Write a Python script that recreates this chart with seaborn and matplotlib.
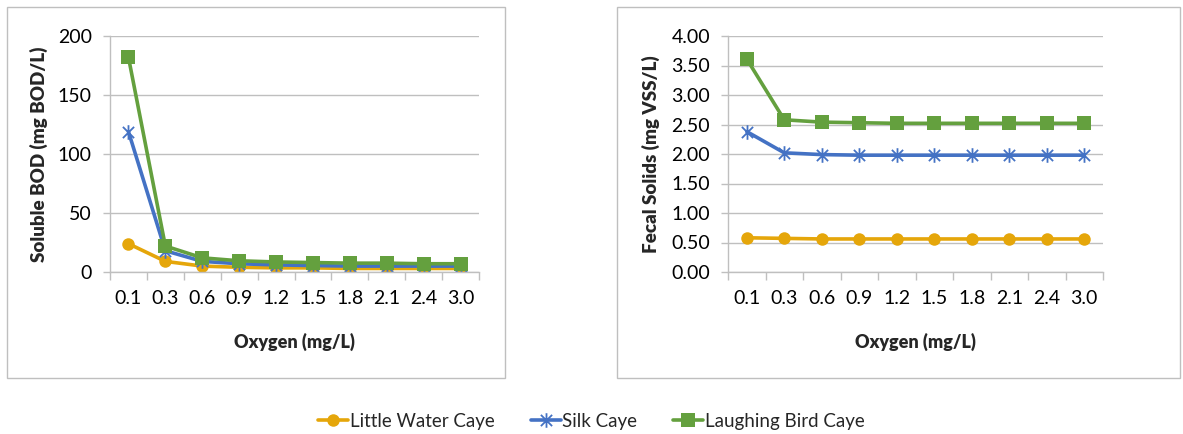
import matplotlib
matplotlib.use("Agg")
import matplotlib.pyplot as plt
import seaborn as sns
import pandas as pd
from matplotlib.path import Path
from matplotlib.patches import Rectangle
from matplotlib.lines import Line2D
from matplotlib.ticker import FixedLocator, NullFormatter

oxygen = ["0.1", "0.3", "0.6", "0.9", "1.2", "1.5", "1.8", "2.1", "2.4", "3.0"]
series_names = ["Little Water Caye", "Silk Caye", "Laughing Bird Caye"]

bod_little = [24, 9, 5, 4, 3.5, 3.5, 3, 3, 3, 3]
bod_silk = [119, 18, 9, 7, 6, 5.5, 5, 5, 5, 5]
bod_laughing = [182, 22, 12, 9.5, 8.5, 8, 7.5, 7.5, 7, 7]

fs_little = [0.58, 0.57, 0.56, 0.56, 0.56, 0.56, 0.56, 0.56, 0.56, 0.56]
fs_silk = [2.38, 2.02, 1.99, 1.98, 1.98, 1.98, 1.98, 1.98, 1.98, 1.98]
fs_laughing = [3.61, 2.58, 2.54, 2.53, 2.52, 2.52, 2.52, 2.52, 2.52, 2.52]

colors = ["#E5A60A", "#4472C4", "#64A03E"]

sns.set_theme(style="white")
plt.rcParams["font.family"] = ["Lato", "DejaVu Sans"]

# asterisk marker: x plus vertical bar
star = Path(
    [(-1, -1), (1, 1), (-1, 1), (1, -1), (0, -1.3), (0, 1.3)],
    [Path.MOVETO, Path.LINETO, Path.MOVETO, Path.LINETO, Path.MOVETO, Path.LINETO],
)
markers = ["o", star, "s"]
msizes = [9, 10.5, 9.5]

fig = plt.figure(figsize=(11.83, 4.34), dpi=100)
W, H = 1183, 434

# panel frames
for (x0, x1) in [(7, 505), (617, 1180)]:
    fig.patches.append(Rectangle((x0 / W, 1 - 378 / H), (x1 - x0) / W, (378 - 7) / H,
                                 transform=fig.transFigure, fill=False,
                                 edgecolor="#BFBFBF", linewidth=1.0))

ax1 = fig.add_axes([110 / W, 1 - 272 / H, (479 - 110) / W, (272 - 36) / H])
ax2 = fig.add_axes([728 / W, 1 - 272 / H, (1103 - 728) / W, (272 - 36) / H])

panels = [
    (ax1, [bod_little, bod_silk, bod_laughing], (0, 200), [0, 50, 100, 150, 200],
     "{:.0f}", "Soluble BOD (mg BOD/L)", -0.168),
    (ax2, [fs_little, fs_silk, fs_laughing], (0, 4), [0, 0.5, 1, 1.5, 2, 2.5, 3, 3.5, 4],
     "{:.2f}", "Fecal Solids (mg VSS/L)", -0.181),
]

for ax, data, ylim, yticks, fmt, ylabel, ylx in panels:
    for vals, name, c, m, ms in zip(data, series_names, colors, markers, msizes):
        df = pd.DataFrame({"x": oxygen, "y": vals})
        mew = 1.3 if m is star else 0
        sns.lineplot(data=df, x="x", y="y", ax=ax, color=c, linewidth=2.6,
                     marker=m, markersize=ms, markeredgecolor=c,
                     markerfacecolor=c, markeredgewidth=mew, label=name,
                     legend=False, sort=False)
    ax.set_xlim(-0.5, len(oxygen) - 0.5)
    ax.set_ylim(*ylim)
    ax.set_yticks(yticks)
    ax.set_yticklabels([fmt.format(v) for v in yticks])
    ax.yaxis.grid(True, color="#BFBFBF", linewidth=1.0)
    ax.set_axisbelow(True)
    for s in ["top", "right"]:
        ax.spines[s].set_visible(False)
    for s in ["left", "bottom"]:
        ax.spines[s].set_color("#BFBFBF")
        ax.spines[s].set_linewidth(1.0)
    ax.xaxis.set_minor_locator(FixedLocator([i - 0.5 for i in range(len(oxygen) + 1)]))
    ax.xaxis.set_minor_formatter(NullFormatter())
    ax.tick_params(axis="x", which="major", length=0, pad=13, labelsize=14, colors="#000000")
    ax.tick_params(axis="x", which="minor", length=6, width=1.0, color="#BFBFBF", bottom=True)
    ax.tick_params(axis="y", which="major", length=5, width=1.0, color="#BFBFBF",
                   left=True, pad=8, labelsize=14, labelcolor="#000000")
    ax.set_xlabel("Oxygen (mg/L)", fontsize=13, fontweight="heavy")
    ax.set_ylabel(ylabel, fontsize=13.5, fontweight="heavy")
    ax.xaxis.set_label_coords(0.5, -0.258)
    ax.yaxis.set_label_coords(ylx, 0.5)

handles = [Line2D([0], [0], color=c, linewidth=2.6, marker=m, markersize=ms,
                  markerfacecolor=c, markeredgecolor=c,
                  markeredgewidth=(1.3 if m is star else 0))
           for c, m, ms in zip(colors, markers, msizes)]
fig.legend(handles, series_names, loc="center", bbox_to_anchor=(0.5, 1 - 421 / H),
           ncol=3, frameon=False, fontsize=13.5, handlelength=1.6, handletextpad=0.1,
           columnspacing=1.9)

fig.savefig("out.png", dpi=100)
